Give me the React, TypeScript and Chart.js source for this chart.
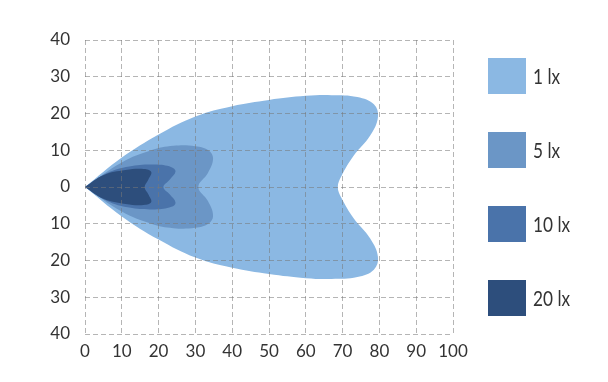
import React, { useEffect, useRef } from 'react';
import { Chart, registerables } from 'chart.js';

Chart.register(...registerables);

// ---- data ----
const X_TICKS = [0, 10, 20, 30, 40, 50, 60, 70, 80, 90, 100];
const Y_TICKS = [-40, -30, -20, -10, 0, 10, 20, 30, 40];

const SERIES_LABELS = ['1 lx', '5 lx', '10 lx', '20 lx'];
const SERIES_COLORS = ['#8bb8e3', '#6b96c6', '#4a73aa', '#2d4e7c'];

const LX1_X = [0, 10, 20, 30, 40, 50, 60, 67, 74, 78.5, 79.6, 77.5, 73, 69.7, 68.7, 69.7, 73, 77.5, 79.6, 78.5, 74, 67, 60, 50, 40, 30, 20, 10, 0];
const LX1_Y = [0, 8, 14.3, 19.2, 22, 23.7, 24.8, 25, 24.5, 22.5, 19, 14, 8.5, 3, 0, -3, -8.5, -14, -19, -22.5, -24.5, -25, -24.8, -23.7, -22, -19.2, -14.3, -8, 0];

const LX5_X = [0, 10, 18, 24, 30, 33.5, 34.8, 33.4, 30.8, 33.4, 34.8, 33.5, 30, 24, 18, 10, 0];
const LX5_Y = [0, 6.7, 10, 11.2, 11.1, 10, 7.8, 3.8, 0, -3.8, -7.8, -10, -11.1, -11.2, -10, -6.7, 0];

const LX10_X = [0, 6, 12, 19, 23.5, 24.6, 23, 21.3, 23, 24.6, 23.5, 19, 12, 6, 0];
const LX10_Y = [0, 3.8, 5.6, 6.1, 5.4, 4.2, 2, 0, -2, -4.2, -5.4, -6.1, -5.6, -3.8, 0];

const LX20_X = [0, 5, 11, 16, 18, 17.2, 16.2, 17.2, 18, 16, 11, 5, 0];
const LX20_Y = [0, 3.2, 4.6, 4.9, 4.1, 2, 0, -2, -4.1, -4.9, -4.6, -3.2, 0];

const SERIES_X = [LX1_X, LX5_X, LX10_X, LX20_X];
const SERIES_Y = [LX1_Y, LX5_Y, LX10_Y, LX20_Y];

const FONT = 'Lato, "Open Sans", sans-serif';
const TEXT_COLOR = '#333333';
const GRID_COLOR = 'rgba(120,120,120,0.55)';

const legendPlugin = {
  id: 'sideLegend',
  afterDraw(chart: any) {
    const { ctx, chartArea } = chart;
    const x0 = chartArea.right + 35;
    const boxW = 38;
    const boxH = 36;
    const gap = 74;
    const top = chartArea.top + 18;
    chart.data.datasets.forEach((ds: any, i: number) => {
      const y = top + i * gap;
      ctx.save();
      ctx.fillStyle = ds.backgroundColor;
      ctx.fillRect(x0, y, boxW, boxH);
      ctx.fillStyle = TEXT_COLOR;
      ctx.font = `21px ${FONT}`;
      ctx.textBaseline = 'middle';
      ctx.textAlign = 'left';
      ctx.translate(x0 + boxW + 7, y + boxH / 2 + 1);
      ctx.scale(0.82, 1);
      ctx.fillText(ds.label, 0, 0);
      ctx.restore();
    });
  },
};

export default function App() {
  const canvasRef = useRef<HTMLCanvasElement | null>(null);

  useEffect(() => {
    if (!canvasRef.current) return;
    const datasets = SERIES_LABELS.map((label, i) => ({
      label,
      data: SERIES_X[i].map((x, j) => ({ x, y: SERIES_Y[i][j] })),
      showLine: true,
      fill: 'shape',
      backgroundColor: SERIES_COLORS[i],
      borderColor: SERIES_COLORS[i],
      borderWidth: 0,
      pointRadius: 0,
      pointHoverRadius: 0,
      tension: 0.4,
      order: SERIES_LABELS.length - i,
    }));

    const chart = new Chart(canvasRef.current, {
      type: 'scatter',
      data: { datasets: datasets as any },
      options: {
        animation: false,
        responsive: true,
        maintainAspectRatio: false,
        layout: { padding: { left: 0, top: 40, right: 155, bottom: 0 } },
        plugins: {
          legend: { display: false },
          tooltip: { enabled: false },
        },
        scales: {
          x: {
            type: 'linear',
            min: X_TICKS[0],
            max: X_TICKS[X_TICKS.length - 1],
            afterBuildTicks: (s: any) => {
              s.ticks = X_TICKS.map((v) => ({ value: v }));
            },
            afterFit: (s: any) => {
              s.height = 48;
            },
            ticks: {
              color: TEXT_COLOR,
              font: { family: FONT, size: 17 },
              padding: 7,
              maxRotation: 0,
              autoSkip: false,
            },
            grid: {
              color: GRID_COLOR,
              lineWidth: 1,
              drawTicks: false,
              z: 1,
            },
            border: { display: false, dash: [5, 3] },
          },
          y: {
            type: 'linear',
            min: Y_TICKS[0],
            max: Y_TICKS[Y_TICKS.length - 1],
            afterBuildTicks: (s: any) => {
              s.ticks = Y_TICKS.map((v) => ({ value: v }));
            },
            afterFit: (s: any) => {
              s.width = 85;
            },
            ticks: {
              color: TEXT_COLOR,
              font: { family: FONT, size: 17 },
              padding: 15,
              autoSkip: false,
              callback: (v: any) => String(Math.abs(Number(v))),
            },
            grid: {
              color: GRID_COLOR,
              lineWidth: 1,
              drawTicks: false,
              z: 1,
            },
            border: { display: false, dash: [5, 3] },
          },
        },
      },
      plugins: [legendPlugin],
    });
    return () => chart.destroy();
  }, []);

  return (
    <div style={{ position: 'fixed', left: 0, top: 0, width: 608, height: 382, background: '#ffffff' }}>
      <canvas ref={canvasRef} />
    </div>
  );
}
